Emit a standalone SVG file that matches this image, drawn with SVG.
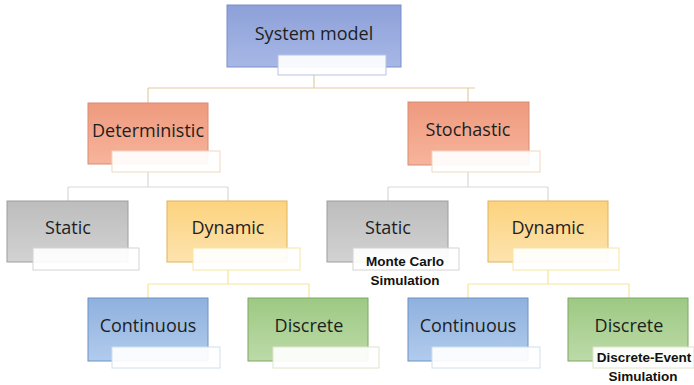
<svg xmlns="http://www.w3.org/2000/svg" width="694" height="385" viewBox="0 0 694 385">
<defs>
<linearGradient id="gBlue" x1="0" y1="0" x2="0" y2="1"><stop offset="0" stop-color="#8da0d8"/><stop offset="1" stop-color="#a7b8e6"/></linearGradient>
<linearGradient id="gSalmon" x1="0" y1="0" x2="0" y2="1"><stop offset="0" stop-color="#ee9a7e"/><stop offset="1" stop-color="#f7b49c"/></linearGradient>
<linearGradient id="gGray" x1="0" y1="0" x2="0" y2="1"><stop offset="0" stop-color="#bdbdbd"/><stop offset="1" stop-color="#d2d2d2"/></linearGradient>
<linearGradient id="gGold" x1="0" y1="0" x2="0" y2="1"><stop offset="0" stop-color="#fcd37f"/><stop offset="1" stop-color="#fde3ae"/></linearGradient>
<linearGradient id="gLBlue" x1="0" y1="0" x2="0" y2="1"><stop offset="0" stop-color="#8fb1de"/><stop offset="1" stop-color="#b1cbec"/></linearGradient>
<linearGradient id="gGreen" x1="0" y1="0" x2="0" y2="1"><stop offset="0" stop-color="#9dc983"/><stop offset="1" stop-color="#bcdaa8"/></linearGradient>
</defs>
<style>
.t{font-family:"Open Sans","Liberation Sans",sans-serif;font-size:18px;fill:#1e1e1e;text-anchor:middle}
.b{font-family:"Liberation Sans","Open Sans",sans-serif;font-size:13.5px;font-weight:bold;fill:#111;text-anchor:middle}
.lab{fill:#ffffff;fill-opacity:0.92;stroke-width:1}
.c1{fill:none;stroke:#e3cca6;stroke-width:1.2}
.c2{fill:none;stroke:#d9d9d9;stroke-width:1.2}
.c3{fill:none;stroke:#f3e59a;stroke-width:1.2}
</style>
<g id="connectors">
<path class="c1" d="M314 75 V88 M148 88 H475 M148 88 V103 M468 88 V102"/>
<path class="c2" d="M148 172 V187 M68 187 H228 M68 187 V201 M228 187 V201"/>
<path class="c2" d="M468 172 V187 M388 187 H548 M388 187 V201 M548 187 V201"/>
<path class="c3" d="M228 270 V284 M148 284 H309 M148 284 V298 M309 284 V298"/>
<path class="c3" d="M548 270 V284 M468 284 H629 M468 284 V298 M629 284 V298"/>
</g>
<g id="root">
<rect x="227" y="5" width="174" height="62" fill="url(#gBlue)" stroke="#7b8fc8"/>
<text class="t" x="314" y="40" font-size="20">System model</text>
<rect class="lab" x="278" y="55" width="108" height="20" stroke="#b7c3e6"/>
</g>
<g id="deterministic">
<rect x="88" y="103" width="120" height="61" fill="url(#gSalmon)" stroke="#d98b72"/>
<text class="t" x="148" y="137">Deterministic</text>
<rect class="lab" x="112" y="151" width="108" height="21" stroke="#f0d7bf"/>
</g>
<g id="stochastic">
<rect x="408" y="102" width="121" height="63" fill="url(#gSalmon)" stroke="#d98b72"/>
<text class="t" x="468" y="136">Stochastic</text>
<rect class="lab" x="432" y="151" width="108" height="21" stroke="#f0d7bf"/>
</g>
<g id="static-left">
<rect x="7" y="201" width="121" height="61" fill="url(#gGray)" stroke="#9e9e9e"/>
<text class="t" x="68" y="234">Static</text>
<rect class="lab" x="33" y="248" width="106" height="22" stroke="#d4d4d4"/>
</g>
<g id="dynamic-left">
<rect x="167" y="201" width="120" height="61" fill="url(#gGold)" stroke="#e0b45a"/>
<text class="t" x="228" y="234">Dynamic</text>
<rect class="lab" x="193" y="248" width="107" height="22" stroke="#f7e7a0"/>
</g>
<g id="static-right">
<rect x="327" y="201" width="121" height="61" fill="url(#gGray)" stroke="#9e9e9e"/>
<text class="t" x="388" y="234">Static</text>
<rect class="lab" x="353" y="248" width="106" height="22" stroke="#d4d4d4"/>
<text class="b" x="405" y="266">Monte Carlo</text>
<text class="b" x="405" y="285">Simulation</text>
</g>
<g id="dynamic-right">
<rect x="488" y="201" width="120" height="61" fill="url(#gGold)" stroke="#e0b45a"/>
<text class="t" x="548" y="234">Dynamic</text>
<rect class="lab" x="513" y="248" width="106" height="22" stroke="#f7e7a0"/>
</g>
<g id="continuous-left">
<rect x="88" y="298" width="120" height="63" fill="url(#gLBlue)" stroke="#6f92c4"/>
<text class="t" x="148" y="332">Continuous</text>
<rect class="lab" x="112" y="347" width="108" height="21" stroke="#cfe0ee"/>
</g>
<g id="discrete-left">
<rect x="248" y="298" width="120" height="63" fill="url(#gGreen)" stroke="#7ea862"/>
<text class="t" x="309" y="332">Discrete</text>
<rect class="lab" x="273" y="347" width="106" height="21" stroke="#dfe6c8"/>
</g>
<g id="continuous-right">
<rect x="408" y="298" width="120" height="63" fill="url(#gLBlue)" stroke="#6f92c4"/>
<text class="t" x="468" y="332">Continuous</text>
<rect class="lab" x="432" y="347" width="108" height="21" stroke="#cfe0ee"/>
</g>
<g id="discrete-right">
<rect x="568" y="298" width="120" height="63" fill="url(#gGreen)" stroke="#7ea862"/>
<text class="t" x="629" y="332">Discrete</text>
<rect class="lab" x="593" y="347" width="101" height="21" stroke="#dfe6c8"/>
<text class="b" x="644" y="362">Discrete-Event</text>
<text class="b" x="643" y="381">Simulation</text>
</g>
</svg>
